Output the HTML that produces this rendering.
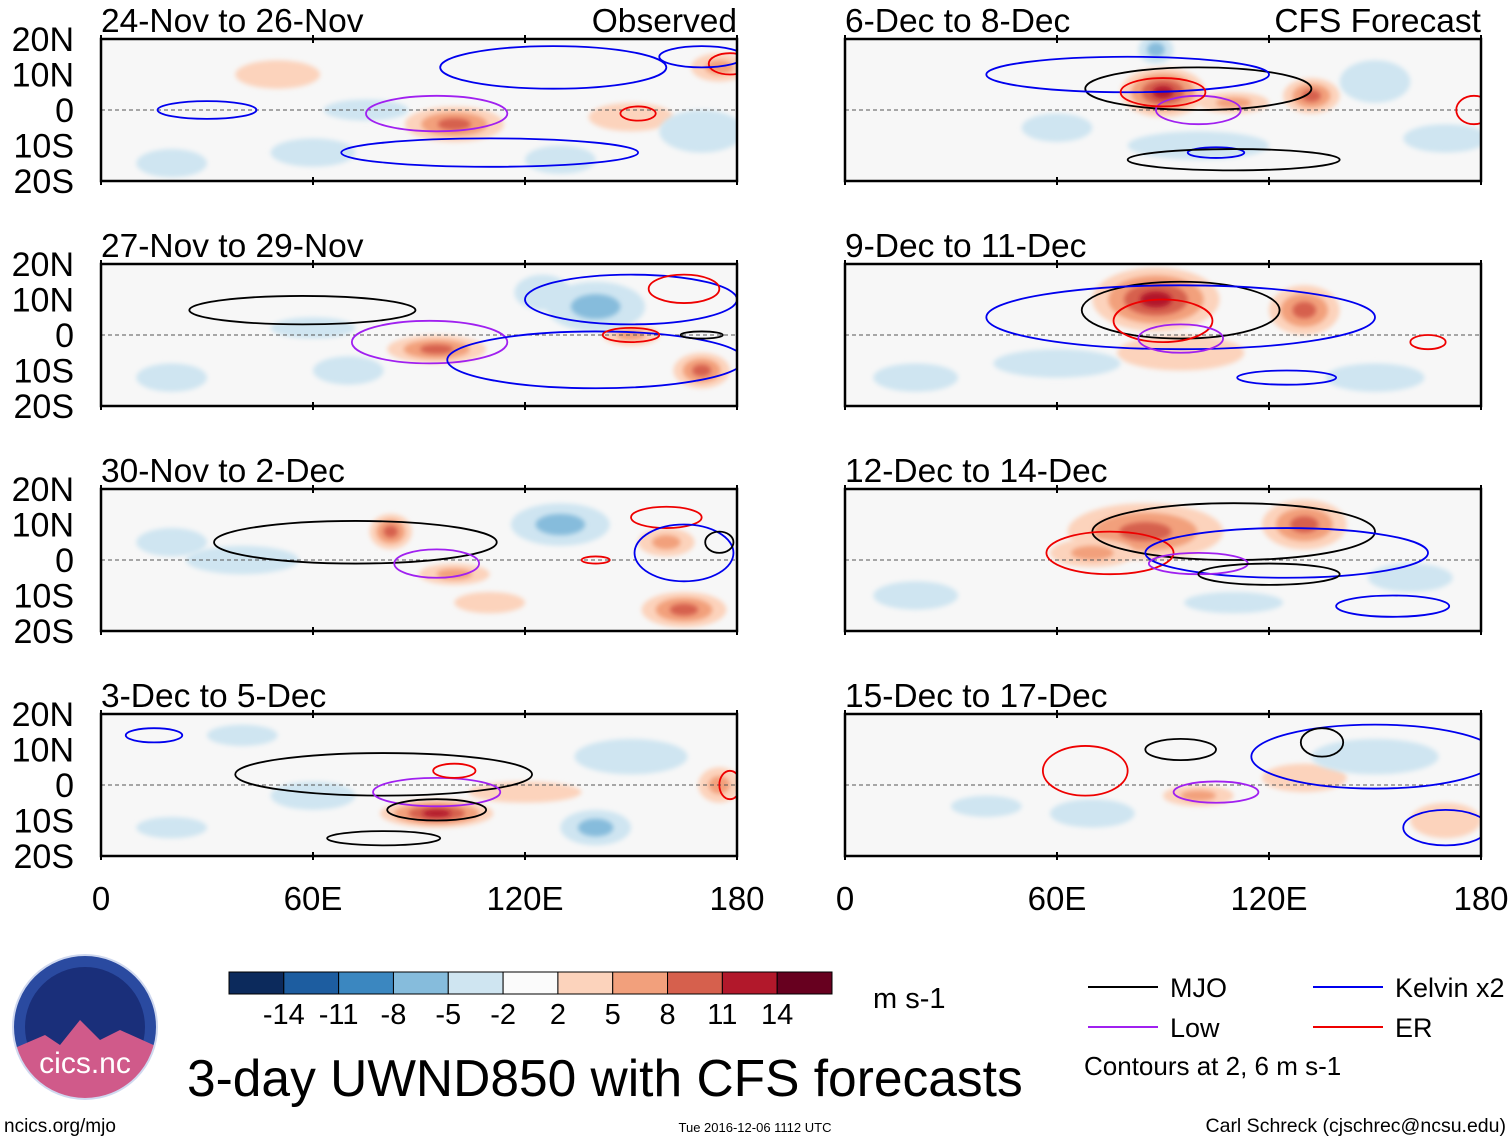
<!DOCTYPE html>
<html><head><meta charset="utf-8"><style>
body{margin:0;background:#fff;width:1510px;height:1142px;overflow:hidden;font-family:"Liberation Sans",sans-serif}
svg text{font-family:"Liberation Sans",sans-serif}
</style></head><body>
<svg id="fig" width="1510" height="1142" xmlns="http://www.w3.org/2000/svg"></svg>
<script>
// colorbar data
const cbLevels=[-14,-11,-8,-5,-2,2,5,8,11,14];
const cbColors=["#0c2a5c","#1d5da0","#3b87c0","#86bcdc","#cfe5f1","#fbfbfb","#fcd3bc","#f2a07c","#d6604d","#b2182b","#67001f"];
// panel definitions
const panelTitles=["24-Nov to 26-Nov","27-Nov to 29-Nov","30-Nov to 2-Dec","3-Dec to 5-Dec","6-Dec to 8-Dec","9-Dec to 11-Dec","12-Dec to 14-Dec","15-Dec to 17-Dec"];
const latTicks=["20N","10N","0","10S","20S"];
const lonTicks=["0","60E","120E","180"];
// anomaly blobs per panel: [lon, lat, rxDeg, ryDeg, value]
const blobs=[
 [[100,-4,14,5,9],[50,10,12,4,3],[150,-2,12,4,3],[170,-6,12,6,-3],[130,-14,10,4,-2],[60,-12,12,4,-2],[175,12,8,4,4],[20,-15,10,4,-2],[75,0,12,3,-2]],
 [[95,-4,14,4,7],[170,-10,8,5,8],[150,0,8,3,5],[140,8,14,7,-4],[70,-10,10,4,-2],[125,12,8,5,-3],[20,-12,10,4,-2],[60,2,12,3,-2]],
 [[82,8,6,5,7],[100,-4,10,3,4],[165,-14,12,5,9],[130,10,14,6,-4],[40,0,16,4,-2],[160,5,8,4,4],[110,-12,10,3,3],[20,5,10,4,-2]],
 [[95,-8,16,4,10],[150,8,16,5,-3],[140,-12,10,5,-4],[60,-3,12,4,-3],[175,0,6,5,4],[120,-2,16,3,3],[20,-12,10,3,-2],[40,14,10,3,-2]],
 [[90,5,12,7,11],[132,4,8,5,8],[88,17,5,4,-6],[60,-5,10,4,-3],[100,-10,20,4,-2],[150,8,10,6,-2],[170,-8,12,4,-2],[110,2,10,3,4]],
 [[88,10,18,9,12],[130,7,10,7,9],[95,-5,18,5,3],[60,-8,18,4,-2],[150,-12,14,4,-3],[20,-12,12,4,-2]],
 [[85,8,22,8,7],[130,10,12,7,8],[70,2,12,4,5],[110,-12,14,3,-3],[160,-5,12,4,-2],[20,-10,12,4,-2]],
 [[100,-3,10,3,5],[130,2,12,4,3],[70,-8,12,4,-3],[150,8,18,5,-2],[170,-10,10,5,3],[40,-6,10,3,-2]]
];
// contours per panel: [type, lon, lat, rxDeg, ryDeg]
const contours=[
 [["kelvin",128,12,32,6],["kelvin",30,0,14,2.5],["low",95,-1,20,5],["kelvin",110,-12,42,4],["er",152,-1,5,2],["er",178,13,6,3],["kelvin",170,15,12,3]],
 [["mjo",57,7,32,4],["low",93,-2,22,6],["kelvin",140,-7,42,8],["kelvin",150,10,30,7],["er",165,13,10,4],["er",150,0,8,2],["mjo",170,0,6,1]],
 [["mjo",72,5,40,6],["low",95,-1,12,4],["er",160,12,10,3],["kelvin",165,2,14,8],["er",140,0,4,1],["mjo",175,5,4,3]],
 [["mjo",80,3,42,6],["low",95,-2,18,4],["mjo",95,-7,14,3],["er",100,4,6,2],["kelvin",15,14,8,2],["er",178,0,3,4],["mjo",80,-15,16,2]],
 [["mjo",100,6,32,6],["kelvin",80,10,40,5],["low",100,0,12,4],["er",90,5,12,4],["kelvin",105,-12,8,1.5],["er",178,0,5,4],["mjo",110,-14,30,3]],
 [["mjo",95,7,28,8],["kelvin",95,5,55,9],["er",90,4,14,6],["low",95,-1,12,4],["er",165,-2,5,2],["kelvin",125,-12,14,2]],
 [["mjo",110,8,40,8],["er",75,2,18,6],["kelvin",125,2,40,7],["low",100,-1,14,3],["kelvin",155,-13,16,3],["mjo",120,-4,20,3]],
 [["er",68,4,12,7],["mjo",95,10,10,3],["low",105,-2,12,3],["kelvin",150,8,35,9],["mjo",135,12,6,4],["kelvin",170,-12,12,5]]
];
const typeColor={mjo:"#000",kelvin:"#0000ee",low:"#a020f0",er:"#ee0000"};

const NS="http://www.w3.org/2000/svg";
const svg=document.getElementById('fig');
function el(tag,attrs,parent){const e=document.createElementNS(NS,tag);for(const k in attrs)e.setAttribute(k,attrs[k]);(parent||svg).appendChild(e);return e;}
function colorFor(v){let i=0;while(i<cbLevels.length&&v>cbLevels[i])i++;return cbColors[i];}

const cols=[101,845], pw=636, rows=[39,264,489,714], ph=142;
const defs=el('defs',{});
const blur=el('filter',{id:'bl',x:'-50%',y:'-50%',width:'200%',height:'200%'},defs);
el('feGaussianBlur',{stdDeviation:'2.5'},blur);

for(let p=0;p<8;p++){
  const x0=cols[p<4?0:1], y0=rows[p%4];
  const xs=lon=>x0+lon/180*pw, ys=lat=>y0+(20-lat)/40*ph;
  const g=el('g',{});
  
  
  const cp=el('clipPath',{id:'c'+p},defs);
  el('rect',{x:x0,y:y0,width:pw,height:ph},cp);
  el('rect',{x:x0,y:y0,width:pw,height:ph,fill:'#f7f7f7'},g);
  const inner=el('g',{'clip-path':'url(#c'+p+')'},g);
  blobs[p].forEach(b=>{
    const [lon,lat,rx,ry,v]=b;
    const steps=Math.ceil(Math.abs(v)/3);
    for(let s=0;s<steps;s++){
      const f=1-s/steps, val=Math.sign(v)*Math.max(2.5,Math.abs(v)*(s+1)/steps+1.5);
      const e=el('ellipse',{cx:xs(lon),cy:ys(lat),rx:rx/180*pw*f,ry:ry/40*ph*f,fill:colorFor(val),filter:'url(#bl)'},inner);
      
      
    }
  });
  el('line',{x1:x0,x2:x0+pw,y1:ys(0),y2:ys(0),stroke:'#555','stroke-dasharray':'4,3','stroke-width':1},inner);
  contours[p].forEach(c=>{
    const [t,lon,lat,rx,ry]=c;
    const e=el('ellipse',{cx:xs(lon),cy:ys(lat),rx:rx/180*pw,ry:ry/40*ph,fill:'none',stroke:typeColor[t],'stroke-width':1.8},inner);
    
    
  });
  el('rect',{x:x0,y:y0,width:pw,height:ph,fill:'none',stroke:'#000','stroke-width':2.5},g);
  for(let i=0;i<=3;i++){el('line',{x1:xs(i*60),x2:xs(i*60),y1:y0-4,y2:y0+4,stroke:'#000','stroke-width':2},g);el('line',{x1:xs(i*60),x2:xs(i*60),y1:y0+ph-4,y2:y0+ph+4,stroke:'#000','stroke-width':2},g);}
  const t=el('text',{x:x0,y:y0-7,'font-size':33.5},g);t.textContent=panelTitles[p];
  
  if(p===0||p===4){const r=el('text',{x:x0+pw,y:y0-7,'font-size':33.5,'text-anchor':'end'},g);r.textContent=p===0?'Observed':'CFS Forecast';
    }
  if(p<4){latTicks.forEach((l,i)=>{const tt=el('text',{x:74,y:y0+i*ph/4+12,'font-size':34,'text-anchor':'end'},g);tt.textContent=l;
    });}
  if(p%4===3){lonTicks.forEach((l,i)=>{const tt=el('text',{x:xs(i*60),y:910,'font-size':33,'text-anchor':'middle'},g);tt.textContent=l;
    });}
}
// colorbar
const cb=el('g',{});
const bw=603/cbColors.length;
cbColors.forEach((c,i)=>el('rect',{x:229+i*bw,y:972,width:bw,height:22,fill:c,stroke:'#000','stroke-width':1},cb));
cbLevels.forEach((v,i)=>{const t=el('text',{x:229+(i+1)*bw,y:1024,'font-size':29,'text-anchor':'middle'},cb);t.textContent=v;});
const u=el('text',{x:873,y:1008,'font-size':29},cb);u.textContent='m s-1';
// title
const ti=el('text',{x:187,y:1096,'font-size':51.5});ti.textContent='3-day UWND850 with CFS forecasts';

// legend
const lg=el('g',{});
[["MJO","#000",1088,987],["Kelvin x2","#0000ee",1313,987],["Low","#a020f0",1088,1027],["ER","#ee0000",1313,1027]].forEach(a=>{
  el('line',{x1:a[2],x2:a[2]+70,y1:a[3],y2:a[3],stroke:a[1],'stroke-width':2},lg);
  const t=el('text',{x:a[2]+82,y:a[3]+10,'font-size':27},lg);t.textContent=a[0];});
const ct=el('text',{x:1084,y:1075,'font-size':26},lg);ct.textContent='Contours at 2, 6 m s-1';
// logo
const lo=el('g',{});
const lc=el('clipPath',{id:'logoclip'},defs);el('circle',{cx:85,cy:1027,r:72},lc);
el('circle',{cx:85,cy:1027,r:72,fill:'#2a4aa0'},lo);
const lgi=el('g',{'clip-path':'url(#logoclip)'},lo);
el('circle',{cx:85,cy:1027,r:60,fill:'#1a2f7a'},lgi);
el('path',{d:'M10 1050 L45 1035 L60 1045 L80 1020 L100 1040 L120 1030 L160 1048 L160 1110 L10 1110Z',fill:'#d05a8a'},lgi);
el('circle',{cx:85,cy:1027,r:72,fill:'none',stroke:'#cfd8ef','stroke-width':2},lo);
const lt=el('text',{x:85,y:1073,'font-size':30,'text-anchor':'middle',fill:'#fff'},lo);lt.textContent='cics.nc';
const f1=el('text',{x:4,y:1132,'font-size':19});f1.textContent='ncics.org/mjo';

const f2=el('text',{x:755,y:1132,'font-size':13,'text-anchor':'middle'});f2.textContent='Tue 2016-12-06 1112 UTC';

const f3=el('text',{x:1506,y:1132,'font-size':19.5,'text-anchor':'end'});f3.textContent='Carl Schreck (cjschrec@ncsu.edu)';

</script>
</body></html>
